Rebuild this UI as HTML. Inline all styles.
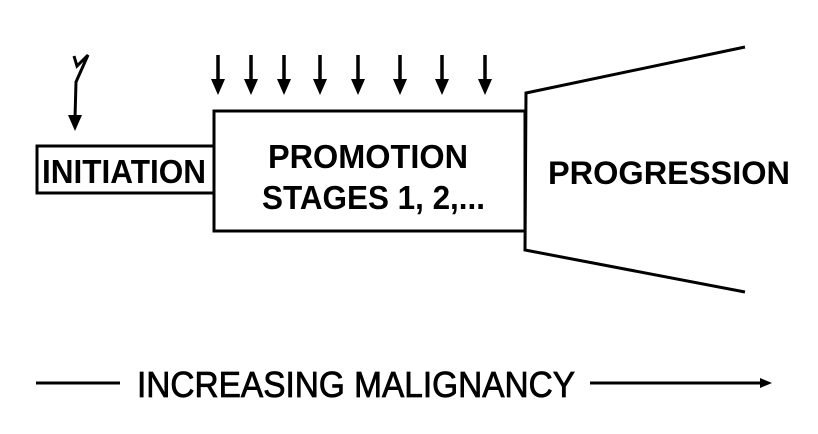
<!DOCTYPE html>
<html><head><style>html,body{margin:0;padding:0;background:#fff}</style></head>
<body>
<svg width="818" height="429" viewBox="0 0 818 429" xmlns="http://www.w3.org/2000/svg" font-family="Liberation Sans, sans-serif">
<g stroke="#000" stroke-width="3" fill="none">
<path d="M74,56 L77,66 L88,55 L76,82 L75,118"/>
<rect x="37" y="146" width="177" height="47"/>
<rect x="214" y="111" width="311" height="120"/>
<path d="M745,47 L526,93 L525,250 L745,292"/>
<path d="M36,383 L120,383"/>
<path d="M590,383 L762,383"/>
</g>
<path d="M68,115 L82,115 L75,131 Z" fill="#000"/>
<g stroke="#000" stroke-width="3.5">
<line x1="218" y1="55" x2="218" y2="82"/><line x1="251" y1="55" x2="251" y2="82"/>
<line x1="284" y1="55" x2="284" y2="82"/><line x1="320" y1="55" x2="320" y2="82"/>
<line x1="358" y1="55" x2="358" y2="82"/><line x1="400" y1="55" x2="400" y2="82"/>
<line x1="442" y1="55" x2="442" y2="82"/><line x1="485" y1="55" x2="485" y2="82"/>
</g>
<g fill="#000">
<path d="M211,79 L225,79 L218,95 Z"/><path d="M244,79 L258,79 L251,95 Z"/>
<path d="M277,79 L291,79 L284,95 Z"/><path d="M313,79 L327,79 L320,95 Z"/>
<path d="M351,79 L365,79 L358,95 Z"/><path d="M393,79 L407,79 L400,95 Z"/>
<path d="M435,79 L449,79 L442,95 Z"/><path d="M478,79 L492,79 L485,95 Z"/>
<path d="M760,378 L772,383 L760,388 Z"/>
</g>
<g fill="#000" font-weight="bold">
<text x="42" y="183" font-size="33" textLength="164" lengthAdjust="spacingAndGlyphs">INITIATION</text>
<text x="268" y="168" font-size="33" textLength="200" lengthAdjust="spacingAndGlyphs">PROMOTION</text>
<text x="262" y="209" font-size="33" textLength="223" lengthAdjust="spacingAndGlyphs">STAGES 1, 2,...</text>
<text x="548" y="184" font-size="32" textLength="242" lengthAdjust="spacingAndGlyphs">PROGRESSION</text>
<text x="137" y="397" font-size="36" textLength="438" lengthAdjust="spacingAndGlyphs" font-weight="normal" stroke="#000" stroke-width="0.8">INCREASING MALIGNANCY</text>
</g>
</svg>
</body></html>
